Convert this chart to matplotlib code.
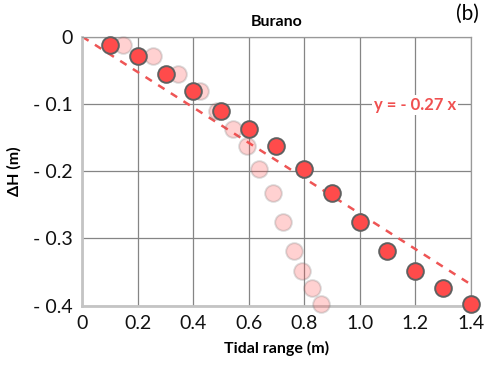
import numpy as np
import matplotlib
matplotlib.use("Agg")
import matplotlib.pyplot as plt

plt.rcParams['font.family'] = ['Lato', 'DejaVu Sans']

# Tidal range (m) and corresponding Delta H (m)
tidal_range = [0.1, 0.2, 0.3, 0.4, 0.5, 0.6, 0.7, 0.8, 0.9, 1.0, 1.1, 1.2, 1.3, 1.4]
delta_h = [-0.012, -0.029, -0.055, -0.081, -0.111, -0.137, -0.163,
           -0.196, -0.232, -0.276, -0.319, -0.349, -0.374, -0.398]

# faded series (same delta H, shifted tidal range)
faded_range = [0.148, 0.256, 0.346, 0.424, 0.485, 0.545, 0.595,
               0.638, 0.686, 0.724, 0.763, 0.791, 0.827, 0.859]
faded_h = delta_h

fit_slope = -0.263
fit_label = 'y = - 0.27 x'

xticks = [0, 0.2, 0.4, 0.6, 0.8, 1.0, 1.2, 1.4]
xticklabels = ['0', '0.2', '0.4', '0.6', '0.8', '1.0', '1.2', '1.4']
yticks = [0, -0.1, -0.2, -0.3, -0.4]
yticklabels = ['0', '- 0.1', '- 0.2', '- 0.3', '- 0.4']

red = '#FF4B4B'

fig = plt.figure(figsize=(4.86, 3.67), dpi=100)
ax = fig.add_axes([0.1693, 0.167, 0.7992, 0.733])

ax.set_xlim(0, 1.4)
ax.set_ylim(-0.4, 0)
ax.set_xticks(xticks)
ax.set_xticklabels(xticklabels)
ax.set_yticks(yticks)
ax.set_yticklabels(yticklabels)
ax.tick_params(length=0, labelsize=14, pad=7, colors='#111111')
ax.grid(True, color='#858585', lw=0.9, zorder=0)
ax.set_axisbelow(True)

for s in ['top', 'right']:
    ax.spines[s].set_color('#999999')
    ax.spines[s].set_linewidth(0.9)
for s in ['left', 'bottom']:
    ax.spines[s].set_color('#C4C4C4')
    ax.spines[s].set_linewidth(2)

# fit line
xf = np.array([0, 1.4])
ax.plot(xf, fit_slope * xf, color='#EE5555', lw=1.8, ls=(0, (3, 3)), zorder=2)

ax.plot(faded_range, faded_h, 'o', ms=12, mfc=red, mec='#707070', mew=1.4,
        alpha=0.25, zorder=3, clip_on=False)
ax.plot(tidal_range, delta_h, 'o', ms=12, mfc=red, mec='#606060', mew=1.4,
        zorder=4, clip_on=False)

ax.text(1.2, -0.1016, fit_label, color='#F05050', fontsize=12, fontweight='bold',
        ha='center', va='center', zorder=5,
        bbox=dict(facecolor='white', edgecolor='none', pad=1.5))

ax.set_title('Burano', fontsize=11.5, fontweight='bold', pad=8)
fig.text(0.985, 0.962, '(b)', fontsize=15, ha='right', va='center')
ax.set_xlabel('Tidal range (m)', fontsize=11.5, fontweight='bold', labelpad=6)
ax.set_ylabel('ΔH (m)', fontsize=11.5, fontweight='bold', labelpad=8)

fig.savefig('out.png', dpi=100)
